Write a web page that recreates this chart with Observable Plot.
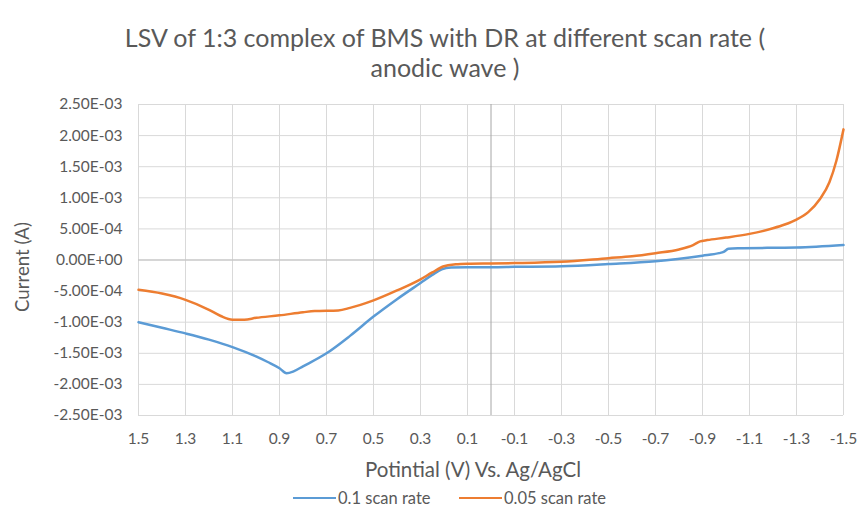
<!DOCTYPE html>
<html>
<head>
<meta charset="utf-8">
<script src="https://cdn.jsdelivr.net/npm/d3@7"></script>
<script src="https://cdn.jsdelivr.net/npm/@observablehq/plot@0.6"></script>
<style>
  html, body { margin: 0; padding: 0; background: #fff; }
  #wrap { width: 861px; height: 509px; position: relative; overflow: hidden; font-family: Lato, "Open Sans", sans-serif; color: #595959; }
  #title { position: absolute; left: 0; top: 22px; width: 890px; text-align: center; font-size: 25px; line-height: 30px; }
  #chart { position: absolute; left: 0; top: 88px; }
  #ylabel { position: absolute; left: 22px; top: 267px; font-size: 18.6px; white-space: nowrap; transform: translate(-50%, -50%) rotate(-90deg); line-height: 1; }
  #legend { position: absolute; left: 0; top: 486px; width: 861px; height: 24px; font-size: 16.5px; }
  .item { position: absolute; top: 0; display: flex; align-items: center; height: 24px; }
  .sw { display: inline-block; width: 43px; height: 2.5px; margin-right: 2px; }
</style>
</head>
<body>
<div id="wrap">
  <div id="title">LSV of 1:3 complex of BMS with DR at different scan rate (<br>anodic wave )</div>
  <div id="chart"></div>
  <div id="ylabel">Current (A)</div>
  <div id="legend"></div>
</div>
<script>
// Potential (V) and current (A)
const blueV = [1.5, 1.4, 1.3, 1.2, 1.1, 1.0, 0.95, 0.9, 0.87, 0.84, 0.8, 0.7, 0.6, 0.5, 0.4, 0.3, 0.25, 0.21, 0.17, 0.1, 0.0, -0.1, -0.3, -0.5, -0.7, -0.9, -0.97, -0.99, -1.01, -1.05, -1.3, -1.5];
const blueI = [-1.00e-3, -1.09e-3, -1.18e-3, -1.28e-3, -1.40e-3, -1.55e-3, -1.64e-3, -1.74e-3, -1.82e-3, -1.79e-3, -1.71e-3, -1.50e-3, -1.22e-3, -0.91e-3, -0.63e-3, -0.37e-3, -0.24e-3, -0.15e-3, -0.12e-3, -0.115e-3, -0.115e-3, -0.11e-3, -0.10e-3, -0.065e-3, -0.02e-3, 0.07e-3, 0.11e-3, 0.13e-3, 0.18e-3, 0.19e-3, 0.20e-3, 0.24e-3];

const orangeV = [1.5, 1.4, 1.3, 1.2, 1.15, 1.1, 1.05, 1.0, 0.9, 0.8, 0.75, 0.65, 0.6, 0.5, 0.4, 0.3, 0.25, 0.2, 0.15, 0.1, 0.0, -0.1, -0.3, -0.5, -0.6, -0.7, -0.8, -0.86, -0.89, -0.92, -1.0, -1.1, -1.2, -1.25, -1.3, -1.35, -1.4, -1.44, -1.47, -1.5];
const orangeI = [-0.48e-3, -0.54e-3, -0.64e-3, -0.80e-3, -0.90e-3, -0.96e-3, -0.96e-3, -0.93e-3, -0.89e-3, -0.84e-3, -0.82e-3, -0.81e-3, -0.77e-3, -0.65e-3, -0.49e-3, -0.31e-3, -0.20e-3, -0.10e-3, -0.07e-3, -0.06e-3, -0.055e-3, -0.05e-3, -0.03e-3, 0.03e-3, 0.06e-3, 0.11e-3, 0.17e-3, 0.24e-3, 0.30e-3, 0.32e-3, 0.36e-3, 0.42e-3, 0.51e-3, 0.57e-3, 0.65e-3, 0.77e-3, 0.98e-3, 1.25e-3, 1.60e-3, 2.10e-3];

const xTicks = [1.5, 1.3, 1.1, 0.9, 0.7, 0.5, 0.3, 0.1, -0.1, -0.3, -0.5, -0.7, -0.9, -1.1, -1.3, -1.5];
const yTicks = [-2.5e-3, -2.0e-3, -1.5e-3, -1.0e-3, -0.5e-3, 0, 0.5e-3, 1.0e-3, 1.5e-3, 2.0e-3, 2.5e-3];

const seriesNames = ["0.1 scan rate", "0.05 scan rate"];
const seriesColors = ["#5B9BD5", "#ED7D31"];

const blue = blueV.map((v, i) => ({v, c: blueI[i]}));
const orange = orangeV.map((v, i) => ({v, c: orangeI[i]}));

function sci(d) {
  const [m, e] = d.toExponential(2).split("e");
  const sign = e[0] === "-" ? "-" : "+";
  const digits = e.replace(/^[+-]/, "").padStart(2, "0");
  return m + "E" + sign + digits;
}

const chart = Plot.plot({
  width: 861,
  height: 395,
  marginTop: 16,
  marginBottom: 68,
  marginLeft: 138,
  marginRight: 18,
  style: {fontFamily: "Lato, 'Open Sans', sans-serif", fontSize: "15.5px", color: "#595959", background: "transparent"},
  x: {domain: [1.5, -1.5], label: null},
  y: {domain: [-2.5e-3, 2.5e-3], label: null},
  marks: [
    Plot.gridX(xTicks, {stroke: "#d9d9d9", strokeOpacity: 1, strokeWidth: 1}),
    Plot.gridY(yTicks, {stroke: "#d9d9d9", strokeOpacity: 1, strokeWidth: 1}),
    Plot.ruleY([0], {stroke: "#bfbfbf", strokeWidth: 1}),
    Plot.ruleX([0], {stroke: "#a6a6a6", strokeWidth: 1}),
    Plot.axisX(xTicks, {tickSize: 0, tickPadding: 17, tickFormat: d => d.toFixed(1), label: null, fill: "#595959"}),
    Plot.axisY(yTicks, {tickSize: 0, tickPadding: 16, tickFormat: sci, label: null, fill: "#595959"}),
    Plot.line(blue, {x: "v", y: "c", stroke: seriesColors[0], strokeWidth: 2.5, curve: "monotone-x"}),
    Plot.line(orange, {x: "v", y: "c", stroke: seriesColors[1], strokeWidth: 2.5, curve: "monotone-x"}),
    Plot.text(["Potintial (V) Vs. Ag/AgCl"], {frameAnchor: "bottom", text: d => d, dy: 61, dx: -18, fontSize: 20.5, fill: "#595959"})
  ]
});
document.getElementById("chart").appendChild(chart);

const legend = document.getElementById("legend");
const lefts = [293, 459];
seriesNames.forEach((name, i) => {
  const it = document.createElement("div");
  it.className = "item";
  it.style.left = lefts[i] + "px";
  const sw = document.createElement("span");
  sw.className = "sw";
  sw.style.background = seriesColors[i];
  const tx = document.createElement("span");
  tx.textContent = name;
  it.appendChild(sw);
  it.appendChild(tx);
  legend.appendChild(it);
});
</script>
</body>
</html>
